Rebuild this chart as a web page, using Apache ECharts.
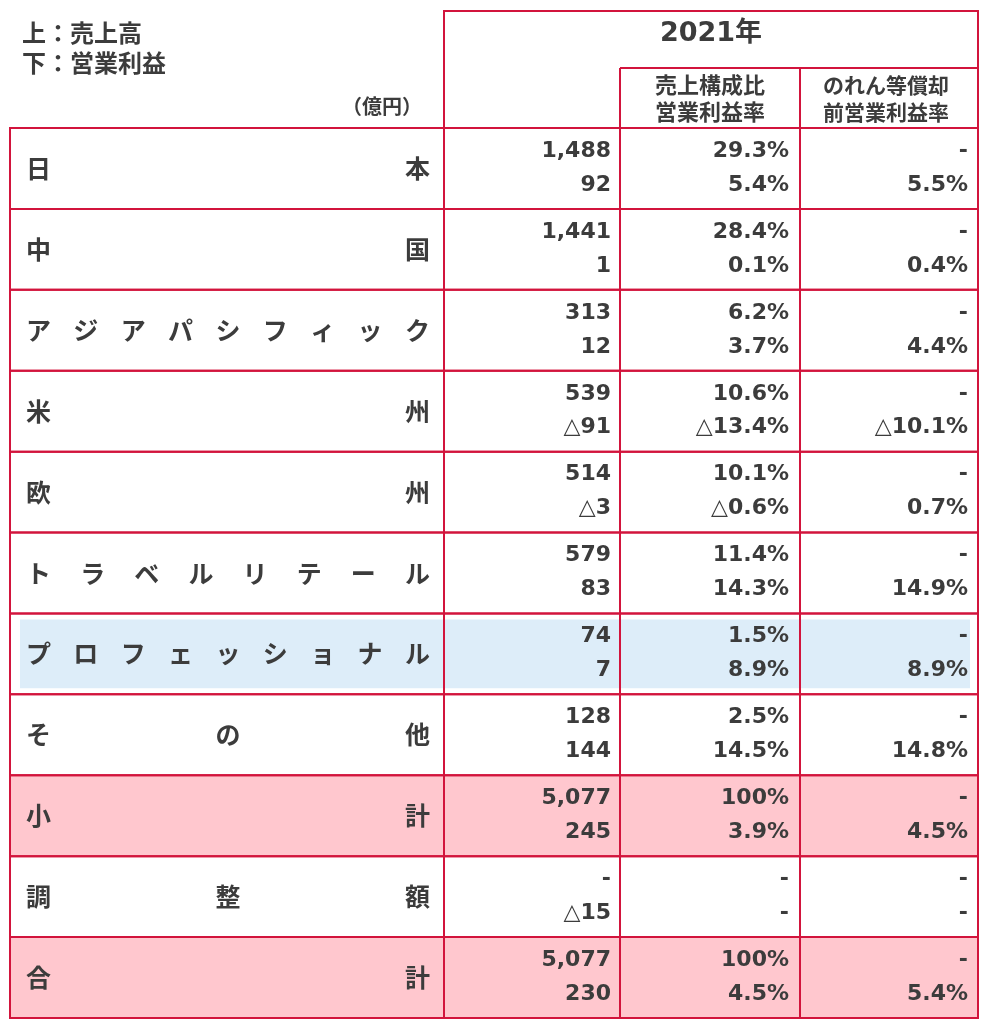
<!DOCTYPE html>
<html><head><meta charset="utf-8">
<script src="https://cdn.jsdelivr.net/npm/echarts@6/dist/echarts.min.js"></script>
<style>html,body{margin:0;padding:0;background:#fff}#c{width:990px;height:1024px}</style>
</head><body><div id="c"></div>
<script>
// ---- data ----
const regions = ['日本','中国','アジアパシフィック','米州','欧州','トラベルリテール','プロフェッショナル','その他','小計','調整額','合計'];
const sales = [1488, 1441, 313, 539, 514, 579, 74, 128, 5077, null, 5077];
const opProfit = [92, 1, 12, -91, -3, 83, 7, 144, 245, -15, 230];
const salesShare = [29.3, 28.4, 6.2, 10.6, 10.1, 11.4, 1.5, 2.5, 100, null, 100];
const opMargin = [5.4, 0.1, 3.7, -13.4, -0.6, 14.3, 8.9, 14.5, 3.9, null, 4.5];
const preAmortMargin = [5.5, 0.4, 4.4, -10.1, 0.7, 14.9, 8.9, 14.8, 4.5, null, 5.4];
const subtotalRows = ['小計', '合計'];
const highlightRows = ['プロフェッショナル'];
const headerYear = '2021年';
const headerCol2 = ['売上構成比', '営業利益率'];
const headerCol3 = ['のれん等償却', '前営業利益率'];
const noteLines = ['上：売上高', '下：営業利益'];
const unitLabel = '（億円）';

// ---- layout / style ----
const COLS = [10, 444, 620, 800, 978];
const BORDER = '#d2143c';
const TEXT = '#3c3c3c';
const PINK = '#ffc7ce';
const BLUE = '#ddedf9';
const NUM_FONT = 'bold 22px "DejaVu Sans", "Noto Sans CJK JP", sans-serif';
const LABEL_FONT = 'bold 25px "Noto Sans CJK JP", sans-serif';
const HEAD_FONT = 'bold 21px "Noto Sans CJK JP", sans-serif';

function fmtNum(v) {
  if (v == null) return '-';
  return (v < 0 ? '△' : '') + Math.abs(v).toLocaleString('en-US');
}
function fmtPct(v) {
  if (v == null) return '-';
  const a = Math.abs(v);
  return (v < 0 ? '△' : '') + (a === 100 ? '100' : a.toFixed(1)) + '%';
}

function txt(x, y, text, font, align, z2) {
  return {
    type: 'text', z2: z2 || 20,
    style: { x: x, y: y, text: text, font: font, fill: TEXT,
      align: align, verticalAlign: 'middle', textAlign: align, textVerticalAlign: 'middle' }
  };
}

const chart = echarts.init(document.getElementById('c'), null, { renderer: 'canvas' });

function renderItem(params, api) {
  const i = api.value(1);
  const center = api.coord([0, i]);
  const h = api.size([0, 1])[1];
  const top = center[1] - h / 2;
  const xs = COLS.map(c => api.coord([c, i])[0]);
  const name = regions[i];
  const children = [];
  if (subtotalRows.indexOf(name) >= 0) {
    children.push({ type: 'rect', z2: 1, shape: { x: xs[0], y: top, width: xs[4] - xs[0], height: h }, style: { fill: PINK } });
  }
  if (highlightRows.indexOf(name) >= 0) {
    children.push({ type: 'rect', z2: 1, shape: { x: xs[0] + 10, y: top + 6, width: xs[4] - xs[0] - 18, height: h - 12 }, style: { fill: BLUE } });
  }
  for (let k = 0; k < 4; k++) {
    children.push({ type: 'rect', z2: 10, shape: { x: xs[k], y: top, width: xs[k + 1] - xs[k], height: h },
      style: { fill: null, stroke: BORDER, lineWidth: 2 } });
  }
  // distributed label
  const chars = Array.from(name);
  const fs = 25;
  const xL = xs[0] + 16, xR = xs[1] - 14;
  const n = chars.length;
  chars.forEach((ch, j) => {
    const cx = n === 1 ? (xL + xR) / 2 : xL + fs / 2 + j * (xR - xL - fs) / (n - 1);
    children.push(txt(cx, center[1], ch, LABEL_FONT, 'center'));
  });
  const y1 = top + h * 0.285, y2 = top + h * 0.705;
  children.push(txt(xs[2] - 9, y1, fmtNum(sales[i]), NUM_FONT, 'right'));
  children.push(txt(xs[2] - 9, y2, fmtNum(opProfit[i]), NUM_FONT, 'right'));
  children.push(txt(xs[3] - 11, y1, fmtPct(salesShare[i]), NUM_FONT, 'right'));
  children.push(txt(xs[3] - 11, y2, fmtPct(opMargin[i]), NUM_FONT, 'right'));
  children.push(txt(xs[4] - 10, y1, '-', NUM_FONT, 'right'));
  children.push(txt(xs[4] - 10, y2, fmtPct(preAmortMargin[i]), NUM_FONT, 'right'));
  return { type: 'group', children: children };
}

chart.setOption({
  animation: false,
  backgroundColor: '#ffffff',
  grid: { left: 0, right: 0, top: 128, bottom: 6 },
  xAxis: { type: 'value', min: 0, max: 990, show: false },
  yAxis: { type: 'category', data: regions, inverse: true, show: false },
  series: [{
    type: 'custom',
    renderItem: renderItem,
    clip: false,
    encode: { x: 0, y: 1 },
    data: regions.map((r, i) => [0, i])
  }]
});

// header, positioned via the x axis scale
const px = COLS.map(c => chart.convertToPixel({ xAxisIndex: 0 }, c));
const HT = 11, HM = 68, HB = 128;
const lineStyle = { stroke: BORDER, lineWidth: 2 };
const g = [];
g.push({ type: 'rect', z: 100, shape: { x: px[1], y: HT, width: px[4] - px[1], height: HB - HT }, style: { fill: null, stroke: BORDER, lineWidth: 2 } });
g.push({ type: 'line', z: 100, shape: { x1: px[2], y1: HM, x2: px[4], y2: HM }, style: lineStyle });
g.push({ type: 'line', z: 100, shape: { x1: px[2], y1: HM, x2: px[2], y2: HB }, style: lineStyle });
g.push({ type: 'line', z: 100, shape: { x1: px[3], y1: HM, x2: px[3], y2: HB }, style: lineStyle });
function gtxt(x, y, text, font, align) {
  return { type: 'text', z: 101, style: { x: x, y: y, text: text, font: font, fill: TEXT,
    align: align, verticalAlign: 'middle', textAlign: align, textVerticalAlign: 'middle' } };
}
g.push(gtxt((px[1] + px[4]) / 2, 34, headerYear, 'bold 27px "DejaVu Sans", "Noto Sans CJK JP", sans-serif', 'center'));
g.push(gtxt((px[2] + px[3]) / 2, 85, headerCol2[0], 'bold 22px "Noto Sans CJK JP", sans-serif', 'center'));
g.push(gtxt((px[2] + px[3]) / 2, 112, headerCol2[1], 'bold 22px "Noto Sans CJK JP", sans-serif', 'center'));
g.push(gtxt((px[3] + px[4]) / 2 - 3, 85, headerCol3[0], HEAD_FONT, 'center'));
g.push(gtxt((px[3] + px[4]) / 2 - 3, 112, headerCol3[1], HEAD_FONT, 'center'));
g.push(gtxt(22, 33, noteLines[0], 'bold 24px "Noto Sans CJK JP", sans-serif', 'left'));
g.push(gtxt(22, 63, noteLines[1], 'bold 24px "Noto Sans CJK JP", sans-serif', 'left'));
g.push(gtxt(px[1] - 22, 106, unitLabel, 'bold 20px "Noto Sans CJK JP", sans-serif', 'right'));
chart.setOption({ graphic: g });
</script>
</body></html>
